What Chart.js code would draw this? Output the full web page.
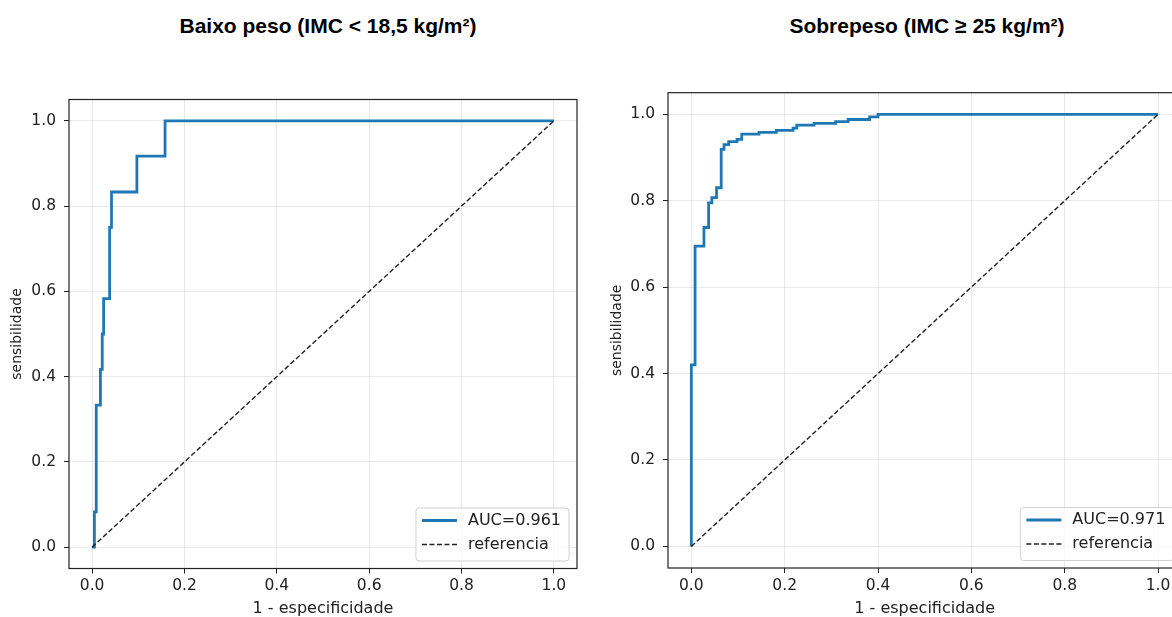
<!DOCTYPE html>
<html lang="pt">
<head>
<meta charset="utf-8">
<title>Curvas ROC - IMC</title>
<script src="https://cdn.jsdelivr.net/npm/chart.js@4.4.0/dist/chart.umd.min.js"></script>
<style>
  html, body { margin: 0; padding: 0; background: #fff; overflow: hidden; }
  body { position: relative; width: 1172px; height: 617px; }
  .titulo { position: absolute; top: 14px; width: 600px; text-align: center;
            font: bold 21px/24px "Liberation Sans", Arial, sans-serif; color: #000; }
  canvas { position: absolute; top: 60px; }
</style>
</head>
<body>
<div class="titulo" style="left: 28px;">Baixo peso (IMC &lt; 18,5 kg/m²)</div>
<div class="titulo" style="left: 627px;">Sobrepeso (IMC ≥ 25 kg/m²)</div>
<canvas id="grafico-baixo-peso" width="600" height="560" style="left: 0;"></canvas>
<canvas id="grafico-sobrepeso" width="600" height="560" style="left: 600px;"></canvas>
<script>
// Pontos da curva ROC (1 - especificidade, sensibilidade)
const fprBaixoPeso = [0, 0.005, 0.009, 0.018, 0.022, 0.025, 0.038, 0.042, 0.097, 0.158, 1.0];
const tprBaixoPeso = [0, 0.083, 0.333, 0.417, 0.5, 0.583, 0.75, 0.833, 0.917, 1.0, 1.0];
const aucBaixoPeso = 0.961;

const fprSobrepeso = [0, 0, 0.008, 0.027, 0.037, 0.044, 0.054, 0.064, 0.07, 0.08, 0.098,
                      0.108, 0.145, 0.182, 0.218, 0.226, 0.263, 0.309, 0.336, 0.382, 0.4, 1.0];
const tprSobrepeso = [0, 0.42, 0.695, 0.738, 0.795, 0.807, 0.83, 0.919, 0.93, 0.937, 0.942,
                      0.954, 0.958, 0.963, 0.968, 0.975, 0.979, 0.983, 0.988, 0.994, 1.0, 1.0];
const aucSobrepeso = 0.971;

// Linha de referencia (diagonal)
const xReferencia = [0, 1];
const yReferencia = [0, 1];

// Marcas dos eixos
const marcasEixo = [0, 0.2, 0.4, 0.6, 0.8, 1.0];

Chart.defaults.font.family = '"DejaVu Sans", sans-serif';
Chart.defaults.color = '#222';

function pontos(xs, ys) {
    return xs.map((x, i) => ({ x: x, y: ys[i] }));
}

// Moldura completa do grafico (estilo matplotlib)
const moldura = {
    id: 'moldura',
    afterDatasetsDraw(chart) {
        const { ctx, chartArea } = chart;
        ctx.save();
        ctx.strokeStyle = '#222';
        ctx.lineWidth = 1.2;
        ctx.strokeRect(chartArea.left, chartArea.top, chartArea.right - chartArea.left, chartArea.bottom - chartArea.top);
        ctx.restore();
    }
};

// Legenda dentro da area do grafico, canto inferior direito
const legendaInterna = {
    id: 'legendaInterna',
    afterDraw(chart) {
        const { ctx, chartArea } = chart;
        const conjuntos = chart.data.datasets;
        ctx.save();
        ctx.font = '16px "DejaVu Sans", sans-serif';
        const larguraTexto = Math.max(...conjuntos.map(d => ctx.measureText(d.label).width));
        const w = 52 + larguraTexto + 8;
        const h = 53;
        const x0 = chartArea.right - 8 - w;
        const y0 = chartArea.bottom - 7.5 - h;

        ctx.beginPath();
        ctx.roundRect(x0, y0, w, h, 3);
        ctx.fillStyle = 'rgba(255,255,255,0.8)';
        ctx.fill();
        ctx.strokeStyle = '#d0d0d0';
        ctx.lineWidth = 1;
        ctx.stroke();

        conjuntos.forEach((d, i) => {
            const y = y0 + 12.5 + i * 24;
            ctx.beginPath();
            ctx.setLineDash(d.borderDash || []);
            ctx.strokeStyle = d.borderColor;
            ctx.lineWidth = d.borderWidth;
            ctx.moveTo(x0 + 6, y);
            ctx.lineTo(x0 + 41, y);
            ctx.stroke();
            ctx.setLineDash([]);
            ctx.fillStyle = '#222';
            ctx.textBaseline = 'middle';
            ctx.textAlign = 'left';
            ctx.fillText(d.label, x0 + 52, y);
        });
        ctx.restore();
    }
};

function criarGrafico(id, fpr, tpr, auc, geo) {
    const ctx = document.getElementById(id).getContext('2d');
    const grade = { color: 'rgba(176,176,176,0.28)', tickColor: '#222', tickLength: 5, lineWidth: 1 };
    return new Chart(ctx, {
        type: 'line',
        data: {
            datasets: [{
                label: `AUC=${auc.toFixed(3)}`,
                data: pontos(fpr, tpr),
                borderColor: '#1f77b4',
                borderWidth: 2.8,
                stepped: 'before',   // horizontal primeiro, depois vertical
                pointRadius: 0,
                fill: false,
                order: 1
            }, {
                label: 'referencia',
                data: pontos(xReferencia, yReferencia),
                borderColor: '#222',
                borderWidth: 1.4,
                borderDash: [5, 2.5],
                pointRadius: 0,
                fill: false,
                order: 0
            }]
        },
        options: {
            responsive: false,
            animation: false,
            events: [],
            layout: { padding: { top: geo.topo, right: geo.direita, left: 0, bottom: 0 } },
            plugins: {
                legend: { display: false },
                tooltip: { enabled: false }
            },
            scales: {
                x: {
                    type: 'linear',
                    min: -0.05,
                    max: 1.05,
                    afterBuildTicks: eixo => { eixo.ticks = marcasEixo.map(v => ({ value: v })); },
                    afterFit: eixo => { eixo.height = geo.eixoX; },
                    ticks: { callback: v => v.toFixed(1), font: { size: 15.5 }, padding: 3.5, maxRotation: 0, autoSkip: false },
                    grid: grade,
                    border: { display: false },
                    title: { display: true, text: '1 - especificidade', font: { size: 16 }, padding: { top: 0, bottom: 1.4 } }
                },
                y: {
                    type: 'linear',
                    min: -0.05,
                    max: 1.05,
                    afterBuildTicks: eixo => { eixo.ticks = marcasEixo.map(v => ({ value: v })); },
                    afterFit: eixo => { eixo.width = geo.eixoY; },
                    ticks: { callback: v => v.toFixed(1), font: { size: 15.5 }, padding: 8, autoSkip: false },
                    grid: grade,
                    border: { display: false },
                    title: { display: true, text: 'sensibilidade', font: { size: 14 }, padding: { top: 9.4, bottom: 0 } }
                }
            }
        },
        plugins: [moldura, legendaInterna]
    });
}

criarGrafico('grafico-baixo-peso', fprBaixoPeso, tprBaixoPeso, aucBaixoPeso,
    { eixoY: 69, eixoX: 51.5, topo: 39.5, direita: 23 });
criarGrafico('grafico-sobrepeso', fprSobrepeso, tprSobrepeso, aucSobrepeso,
    { eixoY: 68, eixoX: 52, topo: 32.7, direita: 18.6 });
</script>
</body>
</html>
